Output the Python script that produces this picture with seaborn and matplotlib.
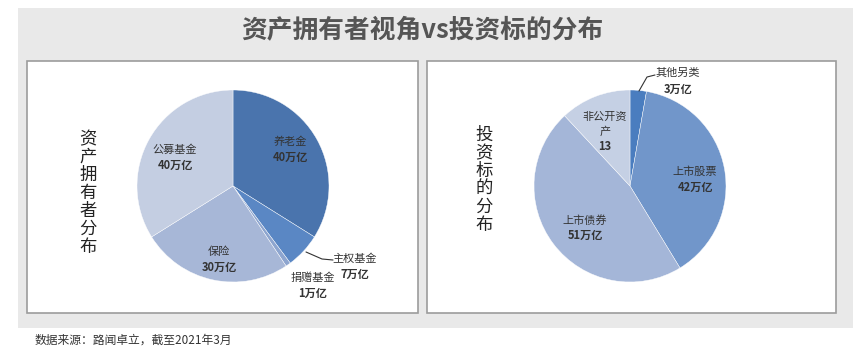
import matplotlib
matplotlib.use("Agg")
import matplotlib.pyplot as plt
import seaborn as sns
from matplotlib.patches import Rectangle

sns.set_theme(style="white")
plt.rcParams['font.family'] = ['Noto Sans CJK SC', 'DejaVu Sans']

# ---- data ----
owner_labels = ["养老金", "主权基金", "捐赠基金", "保险", "公募基金"]
owner_values = [40, 7, 1, 30, 40]
owner_value_text = ["40万亿", "7万亿", "1万亿", "30万亿", "40万亿"]
owner_colors = ["#4a74ad", "#5a87c4", "#8da5cf", "#a7b7d7", "#c4cee2"]

target_labels = ["其他另类", "上市股票", "上市债券", "非公开资\n产"]
target_values = [3, 42, 51, 13]
target_value_text = ["3万亿", "42万亿", "51万亿", "13"]
target_colors = ["#4a7dbf", "#7196ca", "#a4b6d8", "#c5d0e4"]

title = "资产拥有者视角vs投资标的分布"
left_ylabel = "资产拥有者分布"
right_ylabel = "投资标的分布"
footer = "数据来源：路闻卓立，截至2021年3月"

W, H = 864, 356
fig = plt.figure(figsize=(W / 100, H / 100), dpi=100)
fig.patch.set_facecolor("white")

def rect(x0, y0, x1, y1, **kw):
    fig.patches.append(Rectangle((x0 / W, 1 - y1 / H), (x1 - x0) / W, (y1 - y0) / H,
                                 transform=fig.transFigure, zorder=-10, **kw))

# background panel and boxes
rect(18, 8, 853, 328, facecolor="#e9e9e9", edgecolor="none")
rect(27, 61, 418, 313, facecolor="white", edgecolor="#9c9c9c", linewidth=1.2)
rect(427, 61, 836, 313, facecolor="white", edgecolor="#9c9c9c", linewidth=1.2)

fig.text(422 / W, 1 - 30 / H, title, ha="center", va="center", fontsize=18.5,
         fontweight="bold", color="#555555")
fig.text(35 / W, 1 - 340 / H, footer, ha="left", va="center", fontsize=8.5, color="#333333")

def pie_axes(cx, cy, r):
    ax = fig.add_axes([(cx - r) / W, 1 - (cy + r) / H, 2 * r / W, 2 * r / H])
    ax.axis("off")
    return ax

def fix_limits(ax):
    ax.set_xlim(-1, 1)
    ax.set_ylim(-1, 1)
    ax.set_aspect("equal")

def to_data(px, py, cx, cy, r):
    return (px - cx) / r, (cy - py) / r

name_fs = 8
num_fs = 8

# ---- left pie ----
cx1, cy1, r1 = 233, 186, 96
ax1 = pie_axes(cx1, cy1, r1)
ax1.pie(owner_values, colors=owner_colors, startangle=90, counterclock=False, radius=1,
        wedgeprops=dict(edgecolor="white", linewidth=0.3))
fix_limits(ax1)
left_pos = [(290, 142), (355, 259), (313, 278), (219, 252), (175, 150)]
for (px, py), name, val in zip(left_pos, owner_labels, owner_value_text):
    x, y = to_data(px, py, cx1, cy1, r1)
    ax1.text(x, y, name, ha="center", va="center", fontsize=name_fs, color="#333333")
    x2, y2 = to_data(px, py + 15, cx1, cy1, r1)
    ax1.text(x2, y2, val, ha="center", va="center", fontsize=num_fs, color="#333333",
             fontweight="bold")
lx, ly = zip(*[to_data(p[0], p[1], cx1, cy1, r1) for p in [(306, 252), (322, 259), (333, 260)]])
ax1.plot(lx, ly, color="#333333", linewidth=0.8, clip_on=False)
fig.text(88 / W, 1 - 193 / H, "\n".join(left_ylabel), ha="center", va="center",
         fontsize=12.5, color="#222222", linespacing=1.0)

# ---- right pie ----
cx2, cy2, r2 = 630, 186, 96
ax2 = pie_axes(cx2, cy2, r2)
ax2.pie(target_values, colors=target_colors, startangle=90, counterclock=False, radius=1,
        wedgeprops=dict(edgecolor="white", linewidth=0.3))
fix_limits(ax2)
right_pos = [(678, 73), (695, 172), (585, 220), (605, 124)]
right_num_off = [16, 15, 15, 23]
for (px, py), name, val, off in zip(right_pos, target_labels, target_value_text, right_num_off):
    x, y = to_data(px, py, cx2, cy2, r2)
    ax2.text(x, y, name, ha="center", va="center", fontsize=name_fs, color="#333333",
             linespacing=1.5)
    x2, y2 = to_data(px, py + off, cx2, cy2, r2)
    ax2.text(x2, y2, val, ha="center", va="center", fontsize=num_fs, color="#333333",
             fontweight="bold")
rx, ry = zip(*[to_data(p[0], p[1], cx2, cy2, r2) for p in [(639, 91), (647, 77), (655, 75)]])
ax2.plot(rx, ry, color="#333333", linewidth=0.8, clip_on=False)
fig.text(484 / W, 1 - 180 / H, "\n".join(right_ylabel), ha="center", va="center",
         fontsize=12.5, color="#222222", linespacing=1.0)

fig.savefig("out.png", dpi=100)
